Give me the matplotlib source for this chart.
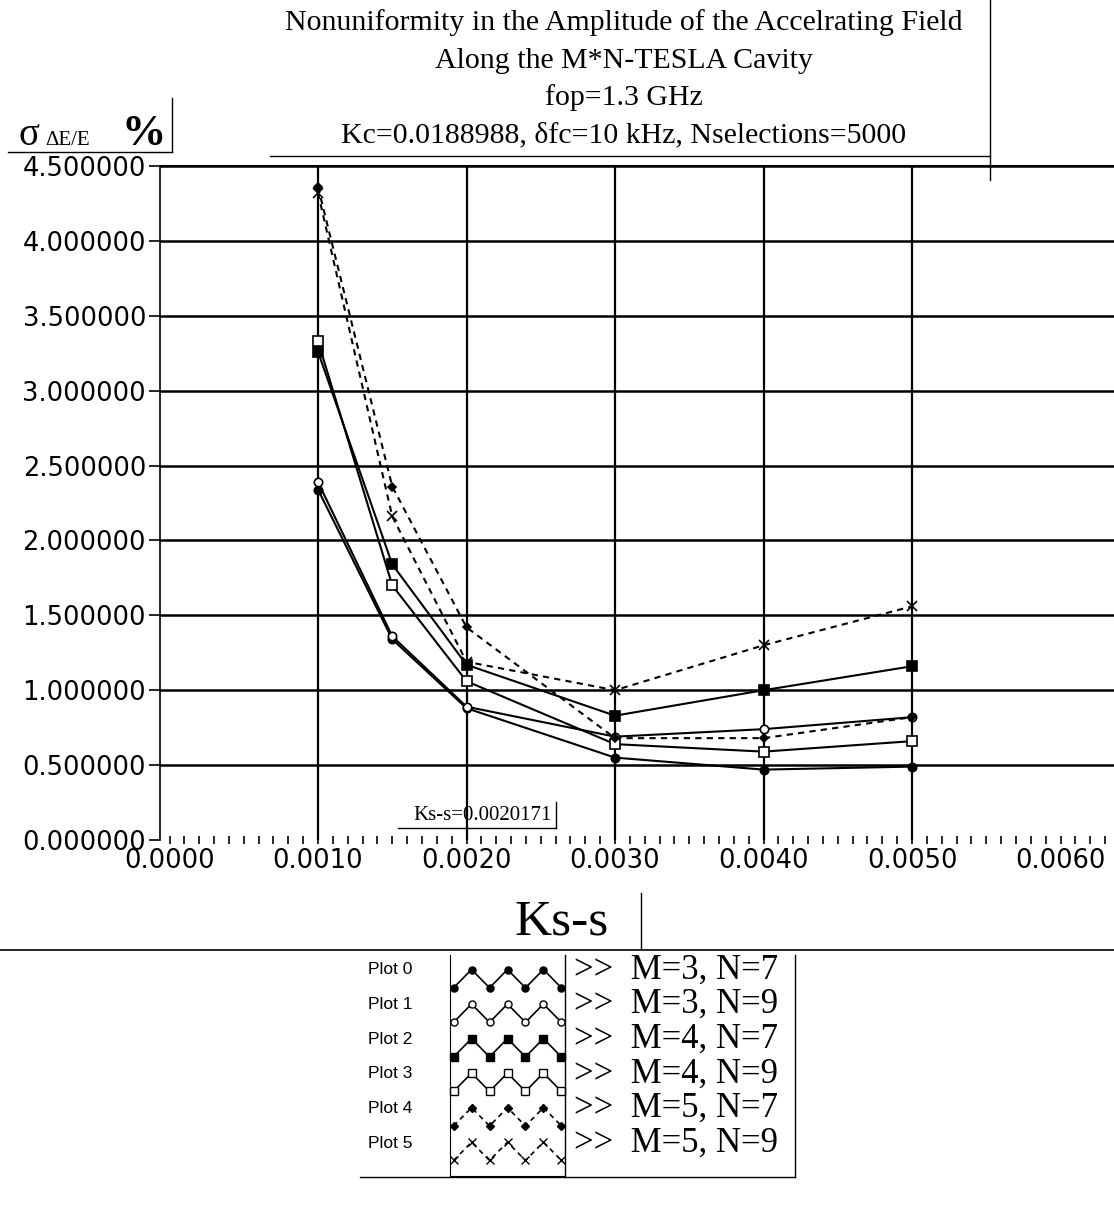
import numpy as np
import matplotlib
matplotlib.use("Agg")
import matplotlib.pyplot as plt
from matplotlib.lines import Line2D
from matplotlib.ticker import FormatStrFormatter, MultipleLocator

# data
ks = [0.0010, 0.0015, 0.0020, 0.0030, 0.0040, 0.0050]
plot0 = [2.34, 1.34, 0.88, 0.55, 0.47, 0.49]   # M=3, N=7
plot1 = [2.39, 1.36, 0.89, 0.69, 0.74, 0.82]   # M=3, N=9
plot2 = [3.26, 1.84, 1.17, 0.83, 1.00, 1.16]   # M=4, N=7
plot3 = [3.33, 1.70, 1.06, 0.64, 0.59, 0.66]   # M=4, N=9
plot4 = [4.36, 2.36, 1.42, 0.68, 0.68, 0.82]   # M=5, N=7
plot5 = [4.32, 2.16, 1.19, 1.00, 1.30, 1.56]   # M=5, N=9

plot_names = ["Plot 0", "Plot 1", "Plot 2", "Plot 3", "Plot 4", "Plot 5"]
series_labels = [">>  M=3, N=7", ">>  M=3, N=9", ">>  M=4, N=7",
                 ">>  M=4, N=9", ">>  M=5, N=7", ">>  M=5, N=9"]
ks_cursor = 0.0020171

W, H = 1114, 1206
SERIF = "Liberation Serif"
SANS = "Liberation Sans"


def fx(px):
    return px / W


def fy(py):
    return 1 - py / H


styles = [
    dict(ls="-", marker="o", mfc="black", ms=6),
    dict(ls="-", marker="o", mfc="white", ms=6),
    dict(ls="-", marker="s", mfc="black", ms=6.5),
    dict(ls="-", marker="s", mfc="white", ms=6.5),
    dict(ls=(0, (3, 2.5)), marker="D", mfc="black", ms=4.5),
    dict(ls=(0, (3, 2.5)), marker="x", mfc="black", ms=7),
]
series = [plot0, plot1, plot2, plot3, plot4, plot5]

fig = plt.figure(figsize=(W / 100, H / 100), dpi=100)
ax = fig.add_axes([fx(160), fy(840), fx(1114) - fx(160), fy(166) - fy(840)])

for vals, st in zip(series, styles):
    ax.plot(ks, vals, color="black", lw=1.5, mec="black", mew=1.2, zorder=3, **st)

ax.set_xlim(-0.000064, 0.00636)
ax.set_ylim(0, 4.5)
ax.set_xticks(np.arange(0, 0.0061, 0.001))
ax.set_yticks(np.arange(0, 4.51, 0.5))
ax.xaxis.set_minor_locator(MultipleLocator(0.0001))
ax.xaxis.set_major_formatter(FormatStrFormatter("%.4f"))
ax.yaxis.set_major_formatter(FormatStrFormatter("%.6f"))
ax.tick_params(axis="both", labelsize=18.5, colors="black")
ax.tick_params(axis="x", which="both", direction="inout", length=6, width=1.2, pad=3)
ax.tick_params(axis="y", direction="out", length=8, width=1.2, pad=2)
for lab in ax.get_xticklabels() + ax.get_yticklabels():
    lab.set_fontfamily("DejaVu Sans")

ax.spines["right"].set_visible(False)
ax.spines["bottom"].set_visible(False)
ax.spines["left"].set_linewidth(1.2)
ax.spines["top"].set_linewidth(1.5)

ax.grid(True, axis="y", color="black", lw=1.8)
ax.grid(True, axis="x", color="black", lw=1.6)
xgl = ax.get_xgridlines()
xgl[0].set_visible(False)
xgl[-1].set_visible(False)
ygl = ax.get_ygridlines()
ygl[0].set_visible(False)

# cursor label
fig.text(fx(552), fy(815), f"Ks-s={ks_cursor}", fontsize=15, family=SERIF,
         ha="right", va="center")
fig.add_artist(Line2D([fx(398), fx(556)], [fy(828), fy(828)], color="black", lw=1))
fig.add_artist(Line2D([fx(556), fx(556)], [fy(802), fy(828)], color="black", lw=1))

# title block
title_lines = ["Nonuniformity in the Amplitude of the Accelrating Field",
               "Along the M*N-TESLA Cavity",
               "fop=1.3 GHz",
               "Kc=0.0188988, \u03b4fc=10 kHz, Nselections=5000"]
for i, t in enumerate(title_lines):
    fig.text(fx(624), fy(23 + i * 37.5), t, fontsize=21.5, family=SERIF,
             ha="center", va="center")
fig.add_artist(Line2D([fx(270), fx(990)], [fy(156), fy(156)], color="black", lw=1))
fig.add_artist(Line2D([fx(990), fx(990)], [fy(0), fy(180)], color="black", lw=1))

# y label
fig.text(fx(18), fy(145), "\u03c3", fontsize=28, family=SERIF, ha="left", va="baseline")
fig.text(fx(45), fy(145), "\u0394E/E", fontsize=15, family=SERIF, ha="left", va="baseline")
fig.text(fx(122), fy(145), "%", fontsize=32, family=SERIF, weight="bold",
         ha="left", va="baseline")
fig.add_artist(Line2D([fx(8), fx(172)], [fy(152), fy(152)], color="black", lw=1))
fig.add_artist(Line2D([fx(172), fx(172)], [fy(98), fy(152)], color="black", lw=1))

# x label
fig.text(fx(562), fy(922), "Ks-s", fontsize=37, family=SERIF, ha="center", va="center")
fig.add_artist(Line2D([fx(641), fx(641)], [fy(893), fy(948)], color="black", lw=1))
fig.add_artist(Line2D([fx(0), fx(1114)], [fy(950), fy(950)], color="black", lw=1.2))

# legend block
row0, dy = 970, 34.6
lax = fig.add_axes([fx(450), fy(1176), fx(565) - fx(450), fy(955) - fy(1176)])
lax.set_xlim(-0.2, 6.2)
lax.set_ylim(5.7, -0.7)
lax.set_xticks([])
lax.set_yticks([])
for s in ["top", "right"]:
    lax.spines[s].set_visible(False)
zx = np.arange(7)
for i, st in enumerate(styles):
    zy = i + np.where(zx % 2 == 0, 0.25, -0.28)
    lax.plot(zx, zy, color="black", lw=1.2, mec="black", mew=1.0,
             clip_on=False, **dict(st, ms=st["ms"] * 0.85))
    yy = fy(row0 + i * dy)
    fig.text(fx(368), yy, plot_names[i], fontsize=12.5, family=SANS, ha="left", va="center")
    fig.text(fx(574), yy, series_labels[i], fontsize=25, family=SERIF,
             ha="left", va="center")
fig.add_artist(Line2D([fx(565), fx(565)], [fy(955), fy(1177)], color="black", lw=1))
fig.add_artist(Line2D([fx(795), fx(795)], [fy(955), fy(1177)], color="black", lw=1))
fig.add_artist(Line2D([fx(360), fx(795)], [fy(1177), fy(1177)], color="black", lw=1))

fig.savefig("out.png", dpi=100)
